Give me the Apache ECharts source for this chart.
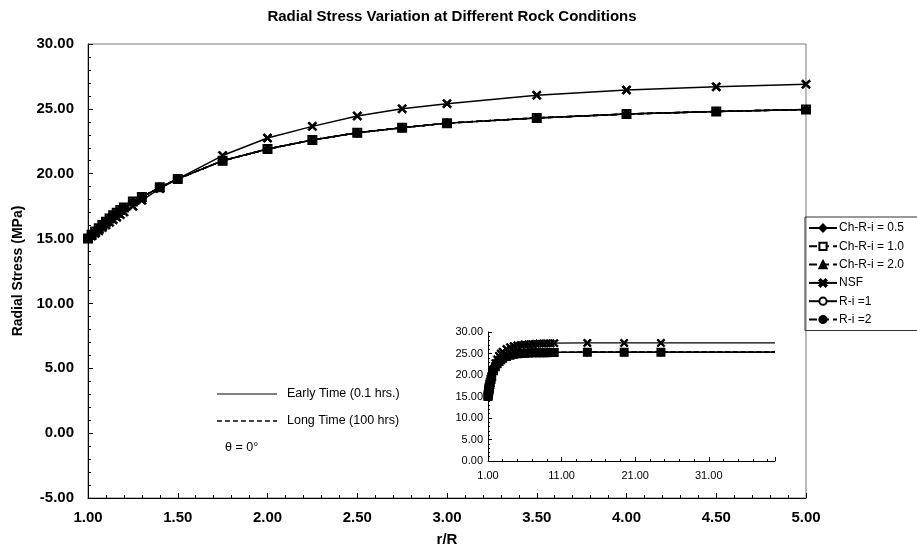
<!DOCTYPE html>
<html><head><meta charset="utf-8">
<script src="https://cdn.jsdelivr.net/npm/echarts@6/dist/echarts.min.js"></script>
<style>html,body{margin:0;padding:0;background:#fff}#c{width:917px;height:554px}</style>
</head><body><div id="c"></div>
<script>
// ---- data ----
const rR       = [1.00,1.02,1.04,1.06,1.08,1.10,1.12,1.14,1.16,1.18,1.20,1.25,1.30,1.40,1.50,1.75,2.00,2.25,2.50,2.75,3.00,3.50,4.00,4.50,5.00];
const longTime = [15.0,15.3,15.55,15.8,16.05,16.3,16.55,16.8,17.0,17.2,17.4,17.85,18.2,18.95,19.6,21.0,21.9,22.6,23.15,23.55,23.9,24.3,24.6,24.8,24.95];
const nsf      = [15.0,15.2,15.4,15.6,15.85,16.05,16.25,16.45,16.65,16.85,17.05,17.5,17.95,18.85,19.6,21.4,22.75,23.65,24.45,25.0,25.4,26.05,26.45,26.7,26.9];
// inset tail (r/R beyond 5)
const tailR    = [5.5,6,6.5,7,7.5,8,8.5,9,9.5,10,14.5,19.5,24.5,40];
const tailLong = [25.0,25.05,25.1,25.15,25.15,25.2,25.2,25.2,25.25,25.25,25.3,25.3,25.3,25.3];
const tailNsf  = [27.0,27.1,27.15,27.2,27.25,27.3,27.3,27.35,27.35,27.4,27.45,27.45,27.45,27.45];
const seriesNames = ['Ch-R-i = 0.5','Ch-R-i = 1.0','Ch-R-i = 2.0','NSF','R-i =1','R-i =2'];

const FONT = 'Liberation Sans, Arial, sans-serif';
const pair = (xs, ys) => xs.map((x, i) => [x, ys[i]]);
const mainLong = pair(rR, longTime);
const mainNsf = pair(rR, nsf);
const insetLong = mainLong.concat(pair(tailR, tailLong));
const insetNsf = mainNsf.concat(pair(tailR, tailNsf));
// last inset point (axis end) without marker
function tailNoMarker(d) { return d.map((p, i) => i === d.length - 1 ? {value: p, symbol: 'none'} : p); }

const X_SYM = 'path://M0,1.5 L1.5,0 L5,3.5 L8.5,0 L10,1.5 L6.5,5 L10,8.5 L8.5,10 L5,6.5 L1.5,10 L0,8.5 L3.5,5 Z';
const styles = {
  'R-i =1':       {symbol: 'emptyCircle', size: 7, dash: 'solid'},
  'Ch-R-i = 1.0': {symbol: 'emptyRect', size: 8, dash: 'dashed'},
  'Ch-R-i = 0.5': {symbol: 'diamond', size: 9, dash: 'solid'},
  'Ch-R-i = 2.0': {symbol: 'triangle', size: 8, dash: 'dashed'},
  'R-i =2':       {symbol: 'circle', size: 7, dash: 'dashed'},
  'NSF':          {symbol: X_SYM, size: 9, dash: 'solid'}
};
const drawOrder = ['R-i =1','Ch-R-i = 1.0','Ch-R-i = 0.5','Ch-R-i = 2.0','R-i =2','NSF'];

const series = [];
[0, 1].forEach(g => {
  drawOrder.forEach(name => {
    const s = styles[name];
    const isNsf = name === 'NSF';
    let data = g === 0 ? (isNsf ? mainNsf : mainLong) : (isNsf ? insetNsf : insetLong);
    if (g === 1) data = tailNoMarker(data);
    series.push({
      name: name, type: 'line', xAxisIndex: g, yAxisIndex: g,
      data: data, symbol: s.symbol,
      symbolSize: g === 0 ? s.size : s.size - 1,
      showAllSymbol: true, animation: false,
      lineStyle: {color: '#000', width: g === 0 ? 1.5 : 1.3, type: s.dash},
      itemStyle: {color: '#000', borderColor: '#000', borderWidth: 1},
      z: 3
    });
  });
});

const axisCommon = {
  axisLine: {show: true, onZero: false, lineStyle: {color: '#000', width: 1}},
  axisTick: {show: true, inside: true, length: 5, lineStyle: {color: '#000'}},
  minorTick: {show: true, splitNumber: 5, length: 3, lineStyle: {color: '#000'}},
  splitLine: {show: false}
};

const option = {
  backgroundColor: '#fff',
  animation: false,
  title: {
    text: 'Radial Stress Variation at Different Rock Conditions',
    left: 447, top: 4, textAlign: 'center',
    textStyle: {fontFamily: FONT, fontSize: 15, fontWeight: 'bold', color: '#000'}
  },
  legend: {
    orient: 'vertical', left: 805, top: 217,
    data: seriesNames,
    itemWidth: 28, itemHeight: 9, itemGap: 6.3,
    padding: [5, 14, 5, 3],
    borderColor: '#333', borderWidth: 1,
    textStyle: {fontFamily: FONT, fontSize: 12, color: '#000', padding: [0, 0, 0, -3]},
    selectedMode: false
  },
  grid: [
    {left: 88, right: 111, top: 44, bottom: 56, show: true, borderColor: '#777', borderWidth: 1, containLabel: false},
    {left: 488, right: 142, top: 332, bottom: 93, containLabel: false}
  ],
  xAxis: [
    Object.assign({}, axisCommon, {
      type: 'value', gridIndex: 0, min: 1, max: 5, interval: 0.5,
      name: 'r/R', nameLocation: 'middle', nameGap: 34,
      nameTextStyle: {fontFamily: FONT, fontSize: 15, fontWeight: 'bold', color: '#000'},
      axisLabel: {fontFamily: FONT, fontSize: 15, fontWeight: 'bold', color: '#000', margin: 12,
                  formatter: v => v.toFixed(2)}
    }),
    Object.assign({}, axisCommon, {
      type: 'value', gridIndex: 1, min: 1, max: 40, interval: 10,
      axisTick: {show: true, inside: true, length: 4, lineStyle: {color: '#000'}},
      minorTick: {show: true, splitNumber: 5, length: 2, lineStyle: {color: '#000'}},
      axisLabel: {fontFamily: FONT, fontSize: 11, color: '#000', margin: 9,
                  formatter: v => v.toFixed(2), showMaxLabel: false}
    })
  ],
  yAxis: [
    Object.assign({}, axisCommon, {
      type: 'value', gridIndex: 0, min: -5, max: 30, interval: 5,
      name: 'Radial Stress (MPa)', nameLocation: 'middle', nameGap: 53,
      nameTextStyle: {fontFamily: FONT, fontSize: 14, fontWeight: 'bold', color: '#000'},
      axisLabel: {fontFamily: FONT, fontSize: 15, fontWeight: 'bold', color: '#000', margin: 14,
                  formatter: v => v.toFixed(2)}
    }),
    Object.assign({}, axisCommon, {
      type: 'value', gridIndex: 1, min: 0, max: 30, interval: 5,
      axisTick: {show: true, inside: true, length: 4, lineStyle: {color: '#000'}},
      minorTick: {show: true, splitNumber: 5, length: 2, lineStyle: {color: '#000'}},
      axisLabel: {fontFamily: FONT, fontSize: 11, color: '#000', margin: 5,
                  formatter: v => v.toFixed(2)}
    })
  ],
  graphic: [
    {type: 'line', shape: {x1: 217, y1: 394, x2: 277, y2: 394}, style: {stroke: '#000', lineWidth: 1}},
    {type: 'text', left: 287, top: 387, style: {text: 'Early Time (0.1 hrs.)', font: '12.5px ' + FONT, fill: '#000'}},
    {type: 'line', shape: {x1: 217, y1: 421, x2: 277, y2: 421}, style: {stroke: '#000', lineWidth: 1.3, lineDash: [5, 3]}},
    {type: 'text', left: 287, top: 414, style: {text: 'Long Time (100 hrs)', font: '12.5px ' + FONT, fill: '#000'}},
    {type: 'text', left: 225, top: 441, style: {text: 'θ = 0°', font: '12.5px ' + FONT, fill: '#000'}}
  ],
  series: series
};

const chart = echarts.init(document.getElementById('c'), null, {renderer: 'canvas'});
chart.setOption(option);
</script>
</body></html>
